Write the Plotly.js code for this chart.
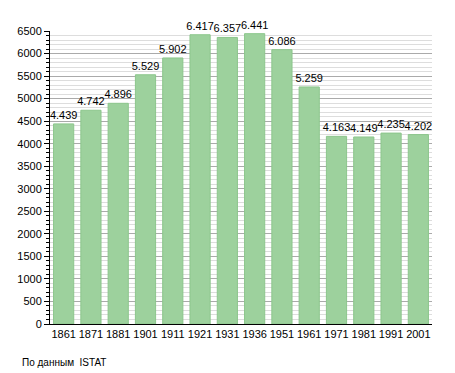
<!DOCTYPE html>
<html><head><meta charset="utf-8">
<script src="https://cdn.plot.ly/plotly-3.0.1.min.js"></script>
<style>body{margin:0;background:#fff}#c{width:455px;height:373px}</style>
</head><body><div id="c"></div>
<script>
const years = ['1861','1871','1881','1901','1911','1921','1931','1936','1951','1961','1971','1981','1991','2001'];
const population = [4439,4742,4896,5529,5902,6417,6357,6441,6086,5259,4163,4149,4235,4202];
const labels = ['4.439','4.742','4.896','5.529','5.902','6.417','6.357','6.441','6.086','5.259','4.163','4.149','4.235','4.202'];
const source = 'По данным  ISTAT';

Plotly.newPlot('c', [{
  type:'bar', x: years, y: population, text: labels,
  textposition:'outside', cliponaxis:false, constraintext:'none',
  textfont:{family:'Liberation Sans, Arial', size:11, color:'#000'},
  marker:{color:'#9dd19d', line:{color:'#8cc68c', width:1}},
  hoverinfo:'none'
}], {
  width:455, height:373,
  margin:{l:50, r:23, t:31, b:49},
  paper_bgcolor:'#fff', plot_bgcolor:'#fff',
  bargap:0.26,
  showlegend:false,
  font:{family:'Liberation Sans, Arial', size:11, color:'#000'},
  xaxis:{type:'category', showline:true, linecolor:'#000', linewidth:1,
    ticks:'', tickfont:{size:11}, showgrid:false, fixedrange:true},
  yaxis:{range:[0,6500], dtick:500, showline:true, linecolor:'#000', linewidth:1,
    ticks:'outside', ticklen:5, tickcolor:'#000', showgrid:true, gridcolor:'#aaaaaa', gridwidth:1,
    zeroline:false, tickfont:{size:11},
    minor:{dtick:100, showgrid:true, gridcolor:'#dddddd', gridwidth:1, ticks:'outside', ticklen:3, tickcolor:'#000'}},
  annotations:[{text:source, xref:'paper', yref:'paper', x:-0.078, y:-0.105, xanchor:'left', yanchor:'top', showarrow:false, font:{size:10}}]
}, {staticPlot:true});
</script></body></html>
